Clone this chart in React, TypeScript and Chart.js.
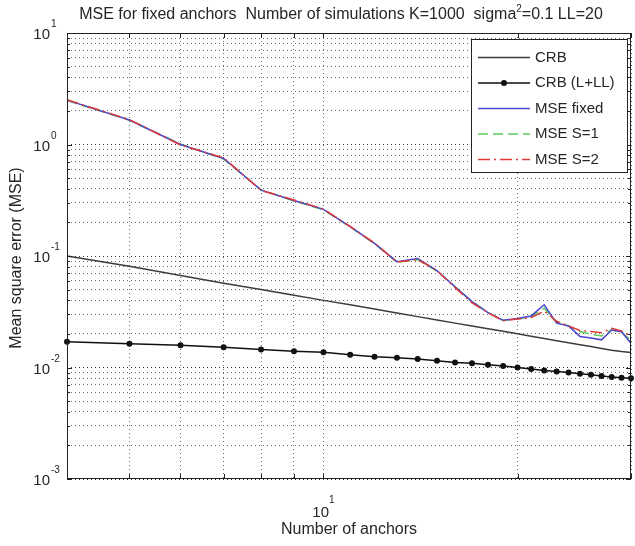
import React, { useEffect, useRef } from "react";
import { Chart, registerables } from "chart.js";

Chart.register(...registerables);

// ---- data ----
const anchors = [4, 5, 6, 7, 8, 9, 10, 11, 12, 13, 14, 15, 16, 17, 18, 19, 20, 21, 22, 23, 24, 25, 26, 27, 28, 29, 30];

const crb = [0.100, 0.081, 0.067, 0.057, 0.050, 0.0445, 0.040, 0.0365, 0.0334, 0.0308, 0.0286, 0.0267, 0.0250, 0.0236,
  0.0223, 0.0211, 0.0201, 0.0191, 0.0182, 0.0174, 0.0167, 0.0160, 0.0154, 0.0148, 0.0143, 0.0139, 0.0136];

const crbLL = [0.0170, 0.0163, 0.0158, 0.0152, 0.0145, 0.0140, 0.0137, 0.0130, 0.0125, 0.0122, 0.0119, 0.0115, 0.0111,
  0.0109, 0.0106, 0.0103, 0.0100, 0.0097, 0.0094, 0.0092, 0.0090, 0.0088, 0.0086, 0.0084, 0.0082, 0.0081, 0.0080];

const mseFixed = [2.5, 1.66, 1.0, 0.75, 0.39, 0.315, 0.262, 0.183, 0.130, 0.089, 0.095, 0.074, 0.053, 0.039, 0.031,
  0.0265, 0.0275, 0.029, 0.0365, 0.025, 0.0236, 0.019, 0.0184, 0.0177, 0.0217, 0.0209, 0.0165];

const mseS1 = [2.48, 1.65, 1.01, 0.74, 0.392, 0.312, 0.26, 0.182, 0.129, 0.088, 0.093, 0.073, 0.053, 0.039, 0.031,
  0.0264, 0.0272, 0.0285, 0.034, 0.0255, 0.0236, 0.021, 0.0198, 0.0192, 0.0218, 0.0207, 0.0175];

const mseS2 = [2.52, 1.67, 0.99, 0.76, 0.388, 0.318, 0.264, 0.184, 0.131, 0.088, 0.093, 0.074, 0.052, 0.038, 0.031,
  0.0262, 0.0272, 0.028, 0.032, 0.026, 0.0236, 0.0215, 0.021, 0.0205, 0.0225, 0.0213, 0.019];

const xTickValues = [4, 5, 6, 7, 8, 9, 10, 20, 30];
const xMajorTicks = [10];
const yMajorTicks = [10, 1, 0.1, 0.01, 0.001];
const yTickValues = [
  0.001, 0.002, 0.003, 0.004, 0.005, 0.006, 0.007, 0.008, 0.009,
  0.01, 0.02, 0.03, 0.04, 0.05, 0.06, 0.07, 0.08, 0.09,
  0.1, 0.2, 0.3, 0.4, 0.5, 0.6, 0.7, 0.8, 0.9,
  1, 2, 3, 4, 5, 6, 7, 8, 9, 10,
];

const titleParts = [
  { t: "MSE for fixed anchors  Number of simulations K=1000  sigma" },
  { t: "2", sup: true },
  { t: "=0.1 LL=20" },
];
const xTitle = "Number of anchors";
const yTitle = "Mean square error (MSE)";

const FONT = '"Liberation Sans", Arial, Helvetica, sans-serif';
const TEXT = "#262626";

type Part = { t: string; sup?: boolean };

function drawParts(ctx: CanvasRenderingContext2D, parts: Part[], x: number, y: number, size: number, supSize: number, raise: number) {
  let total = 0;
  const widths = parts.map((p) => {
    ctx.font = `${p.sup ? supSize : size}px ${FONT}`;
    const w = ctx.measureText(p.t).width;
    total += w;
    return w;
  });
  let cx = x - total / 2;
  ctx.textAlign = "left";
  ctx.textBaseline = "alphabetic";
  parts.forEach((p, i) => {
    ctx.font = `${p.sup ? supSize : size}px ${FONT}`;
    ctx.fillText(p.t, cx, p.sup ? y - raise : y);
    cx += widths[i];
  });
}

function expOf(v: number) {
  return String(Math.round(Math.log10(v)));
}

const decor = {
  id: "decor",
  beforeDraw(chart: any) {
    const { ctx, width, height } = chart;
    ctx.save();
    ctx.fillStyle = "#ffffff";
    ctx.fillRect(0, 0, width, height);
    ctx.restore();
  },
  afterDraw(chart: any) {
    const { ctx, chartArea: ca, scales } = chart;
    const xs = scales.x;
    const ys = scales.y;
    const L = Math.round(ca.left), R = Math.round(ca.right), T = Math.round(ca.top), B = Math.round(ca.bottom);
    ctx.save();
    ctx.strokeStyle = "#222";
    ctx.lineWidth = 1;
    ctx.setLineDash([]);
    ctx.strokeRect(L + 0.5, T + 0.5, R - L - 1, B - T - 1);

    const seg = (x1: number, y1: number, x2: number, y2: number) => {
      ctx.beginPath();
      ctx.moveTo(x1, y1);
      ctx.lineTo(x2, y2);
      ctx.stroke();
    };
    xTickValues.forEach((v) => {
      const px = Math.round(xs.getPixelForValue(v)) + 0.5;
      seg(px, B, px, B - 5);
      seg(px, T, px, T + 5);
    });
    yTickValues.forEach((v) => {
      const py = Math.round(ys.getPixelForValue(v)) + 0.5;
      const len = yMajorTicks.includes(v) ? 5 : 3;
      seg(L, py, L + len, py);
      seg(R, py, R - len, py);
    });

    ctx.fillStyle = TEXT;
    // y tick labels
    yMajorTicks.forEach((v) => {
      const py = ys.getPixelForValue(v);
      ctx.font = `15px ${FONT}`;
      ctx.textAlign = "right";
      ctx.textBaseline = "alphabetic";
      ctx.fillText("10", 50, py + 6);
      ctx.font = `10px ${FONT}`;
      ctx.textAlign = "left";
      ctx.fillText(expOf(v), 51, py - 6);
    });
    // x tick labels
    xMajorTicks.forEach((v) => {
      const px = xs.getPixelForValue(v);
      drawParts(ctx, [{ t: "10" }, { t: expOf(v), sup: true }], px, B + 38, 15, 10, 14);
    });

    // title
    drawParts(ctx, titleParts, (ca.left + ca.right) / 2 - 8, 19, 16, 10, 7);
    // x title
    ctx.font = `16px ${FONT}`;
    ctx.textAlign = "center";
    ctx.textBaseline = "alphabetic";
    ctx.fillText(xTitle, (ca.left + ca.right) / 2, B + 55);
    // y title
    ctx.save();
    ctx.translate(21, (ca.top + ca.bottom) / 2 + 2);
    ctx.rotate(-Math.PI / 2);
    ctx.textAlign = "center";
    ctx.fillText(yTitle, 0, 0);
    ctx.restore();

    // legend
    const bx = 471, by = 39, bw = 156, bh = 133;
    ctx.fillStyle = "#ffffff";
    ctx.fillRect(bx, by, bw, bh);
    ctx.strokeStyle = "#222";
    ctx.lineWidth = 1;
    ctx.strokeRect(bx + 0.5, by + 0.5, bw, bh);
    chart.data.datasets.forEach((ds: any, i: number) => {
      const ry = 57.5 + i * 25.5;
      ctx.save();
      ctx.strokeStyle = ds.borderColor;
      ctx.lineWidth = ds.borderWidth;
      ctx.setLineDash(ds.borderDash || []);
      seg(478, ry, 530, ry);
      ctx.restore();
      if (ds.pointRadius > 0) {
        ctx.fillStyle = ds.pointBackgroundColor;
        ctx.beginPath();
        ctx.arc(504, ry, ds.pointRadius, 0, Math.PI * 2);
        ctx.fill();
      }
      ctx.fillStyle = TEXT;
      ctx.font = `15px ${FONT}`;
      ctx.textAlign = "left";
      ctx.textBaseline = "middle";
      ctx.fillText(ds.label, 535, ry);
    });
    ctx.restore();
  },
};

function pts(vals: number[]) {
  return anchors.map((a, i) => ({ x: a, y: vals[i] }));
}

export default function App() {
  const ref = useRef<HTMLCanvasElement | null>(null);
  useEffect(() => {
    document.body.style.margin = "0";
    const canvas = ref.current;
    if (!canvas) return;
    const chart = new Chart(canvas, {
      type: "line",
      data: {
        datasets: [
          { label: "CRB", data: pts(crb), borderColor: "#3c3c3c", borderWidth: 1.5, pointRadius: 0, order: 3, clip: false } as any,
          { label: "CRB (L+LL)", data: pts(crbLL), borderColor: "#111111", borderWidth: 1.5, pointRadius: 3, pointBackgroundColor: "#111111", pointBorderColor: "#111111", pointBorderWidth: 0, order: 4, clip: false } as any,
          { label: "MSE fixed", data: pts(mseFixed), borderColor: "#4a46cf", borderWidth: 1.5, pointRadius: 0, order: 1, clip: false } as any,
          { label: "MSE S=1", data: pts(mseS1), borderColor: "#5cc85c", borderWidth: 1.5, borderDash: [10, 5], pointRadius: 0, order: 2, clip: false } as any,
          { label: "MSE S=2", data: pts(mseS2), borderColor: "#e03a3a", borderWidth: 1.5, borderDash: [12, 4, 2, 4], pointRadius: 0, order: 0, clip: false } as any,
        ],
      },
      options: {
        animation: false,
        responsive: false,
        events: [],
        layout: { padding: { top: 33, right: 1, left: 0, bottom: 0 } },
        elements: { line: { tension: 0 } },
        plugins: { legend: { display: false }, title: { display: false }, tooltip: { enabled: false } },
        scales: {
          x: {
            type: "logarithmic",
            min: 4,
            max: 30,
            afterBuildTicks: (s: any) => {
              s.ticks = xTickValues.map((v) => ({ value: v }));
            },
            afterFit: (s: any) => {
              s.height = 67;
            },
            ticks: { display: false },
            grid: { drawTicks: false, color: "#6a6a6a", lineWidth: 1 },
            border: { display: false, dash: [1, 3] },
          },
          y: {
            type: "logarithmic",
            min: 0.001,
            max: 10,
            afterBuildTicks: (s: any) => {
              s.ticks = yTickValues.map((v) => ({ value: v }));
            },
            afterFit: (s: any) => {
              s.width = 67;
            },
            ticks: { display: false },
            grid: { drawTicks: false, color: (c: any) => (yMajorTicks.includes(c.tick?.value) ? "#333" : "#6a6a6a"), lineWidth: 1 },
            border: { display: false, dash: [1, 3] },
          },
        },
      } as any,
      plugins: [decor],
    });
    return () => chart.destroy();
  }, []);
  return (
    <div style={{ width: 635, height: 546 }}>
      <canvas ref={ref} width={635} height={546} style={{ display: "block" }} />
    </div>
  );
}
